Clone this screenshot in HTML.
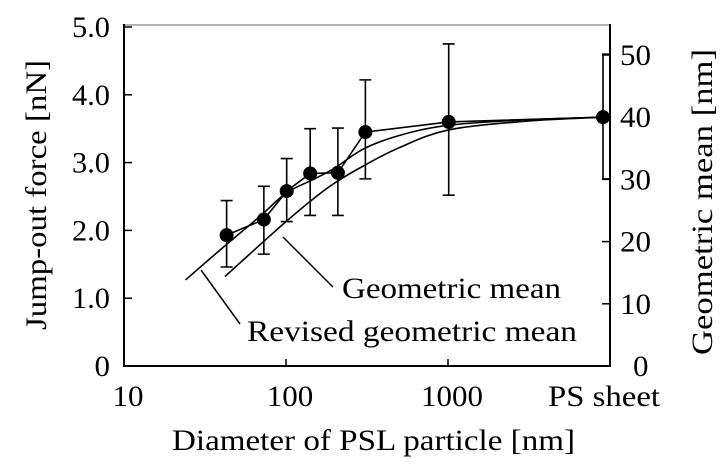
<!DOCTYPE html>
<html><head><meta charset="utf-8"><style>
html,body{margin:0;padding:0;background:#fff;}
svg text{font-family:"Liberation Serif",serif;fill:#000;}
</style></head><body>
<svg id="chart" width="724" height="469" viewBox="0 0 724 469" xmlns="http://www.w3.org/2000/svg">
<g id="axes"></g>
<g id="curves"></g>
<g id="points"></g>
<g>
  <line x1="283" y1="237" x2="333" y2="287" stroke="#000" stroke-width="1.5"/>
  <text x="342" y="298" font-size="30" textLength="219" lengthAdjust="spacingAndGlyphs">Geometric mean</text>
  <line x1="201" y1="270" x2="240" y2="324" stroke="#000" stroke-width="1.5"/>
  <text x="247" y="341" font-size="30" textLength="330" lengthAdjust="spacingAndGlyphs">Revised geometric mean</text>
</g>
<text x="172" y="450" font-size="30" textLength="403" lengthAdjust="spacingAndGlyphs">Diameter of PSL particle [nm]</text>
<text transform="translate(46,195) rotate(-90)" text-anchor="middle" font-size="30" textLength="270" lengthAdjust="spacingAndGlyphs">Jump-out force [nN]</text>
<text transform="translate(712,202) rotate(-90)" text-anchor="middle" font-size="30" textLength="306" lengthAdjust="spacingAndGlyphs">Geometric mean [nm]</text>
</svg>
<script>
const diameters = [43, 73, 101, 141, 209, 309, 1010, 10000];
const forces = [1.93, 2.16, 2.58, 2.84, 2.85, 3.45, 3.6, 3.67];
const errTop = [2.44, 2.65, 3.06, 3.50, 3.51, 4.22, 4.75, 4.60];
const errBottom = [1.46, 1.65, 2.13, 2.22, 2.22, 2.76, 2.52, 2.76];
const revisedD = [24, 40, 70, 100, 150, 200, 300, 500, 1000, 3000, 10000];
const revisedV = [1.27, 1.73, 2.22, 2.55, 2.76, 2.92, 3.2, 3.4, 3.55, 3.63, 3.67];
const geoD = [42, 70, 100, 150, 200, 300, 500, 1000, 3000, 10000];
const geoV = [1.32, 1.8, 2.13, 2.48, 2.7, 2.95, 3.22, 3.48, 3.61, 3.67];
const xTickVals = [10, 100, 1000, 10000];
const xTickLabels = ["10", "100", "1000", "PS sheet"];
const yLeftTicks = [0, 1, 2, 3, 4, 5];
const yLeftLabels = ["0", "1.0", "2.0", "3.0", "4.0", "5.0"];
const yRightTicks = [0, 10, 20, 30, 40, 50];

const X0 = 124, X1 = 610, Y0 = 366;
const xs = d => X0 + (Math.log10(d) - 1) * (X1 - X0) / 3;
const yL = v => Y0 - v * 67.8;
const yR = v => Y0 - v * 6.22;
const NS = "http://www.w3.org/2000/svg";
const tw = s => { let w = 0; for (const c of s) w += (c === '.' ? 7 : c === ' ' ? 8 : 15.5); return w; };
function mk(parent, tag, attrs, text) {
  const e = document.createElementNS(NS, tag);
  for (const k in attrs) e.setAttribute(k, attrs[k]);
  if (text !== undefined) e.textContent = text;
  parent.appendChild(e);
  return e;
}
const axes = document.getElementById('axes');
let e;
e = mk(axes, 'line', {x1: X0, y1: 25, x2: X1, y2: 25, stroke: '#888', 'stroke-width': 1.2});


e = mk(axes, 'line', {x1: X0, y1: 24, x2: X0, y2: Y0 + 1, stroke: '#000', 'stroke-width': 2});


e = mk(axes, 'line', {x1: X1, y1: 24, x2: X1, y2: Y0 + 1, stroke: '#000', 'stroke-width': 2});


e = mk(axes, 'line', {x1: X0, y1: Y0, x2: X1, y2: Y0, stroke: '#000', 'stroke-width': 2});


xTickVals.forEach((v, i) => {
  const x = xs(v);
  const t = mk(axes, 'line', {x1: x, y1: Y0, x2: x, y2: Y0 - 7, stroke: '#000', 'stroke-width': 1.5});
  
  
  const s = xTickLabels[i];
  const w = i === 3 ? 112 : tw(s);
  const l = mk(axes, 'text', {x: i === 3 ? 548 : x + 4 - w / 2, y: 406, 'font-size': 30, textLength: w, lengthAdjust: 'spacingAndGlyphs'}, s);
  
  
});
yLeftTicks.forEach((v, i) => {
  const y = yL(v);
  const t = mk(axes, 'line', {x1: X0, y1: y, x2: X0 + 8, y2: y, stroke: '#000', 'stroke-width': 1.5});
  
  
  const s = yLeftLabels[i];
  const w = tw(s);
  const l = mk(axes, 'text', {x: 110 - w, y: y + 10, 'font-size': 30, textLength: w, lengthAdjust: 'spacingAndGlyphs'}, s);
  
  
});
yRightTicks.forEach(v => {
  const y = yR(v);
  const t = mk(axes, 'line', {x1: X1, y1: y, x2: X1 - 8, y2: y, stroke: '#000', 'stroke-width': 1.5});
  
  
  const s = String(v);
  const l = mk(axes, 'text', {x: v === 0 ? 633 : 620, y: y + 10, 'font-size': 30, textLength: tw(s), lengthAdjust: 'spacingAndGlyphs'}, s);
  
  
});
const curves = document.getElementById('curves');
const px = d => d >= 10000 ? xs(d) - 7 : xs(d);
function smooth(D, V) {
  const p = D.map((d, i) => [px(d), yL(V[i])]);
  let s = `M${p[0][0]},${p[0][1]}`;
  for (let i = 0; i < p.length - 1; i++) {
    const a = p[i - 1] || p[i], b = p[i], c = p[i + 1], d = p[i + 2] || c;
    s += ` C${b[0] + (c[0] - a[0]) / 6},${b[1] + (c[1] - a[1]) / 6} ${c[0] - (d[0] - b[0]) / 6},${c[1] - (d[1] - b[1]) / 6} ${c[0]},${c[1]}`;
  }
  return s;
}
e = mk(curves, 'path', {d: smooth(revisedD, revisedV), fill: 'none', stroke: '#000', 'stroke-width': 1.6});


e = mk(curves, 'path', {d: smooth(geoD, geoV), fill: 'none', stroke: '#000', 'stroke-width': 1.6});


const pts = document.getElementById('points');
e = mk(pts, 'polyline', {points: diameters.map((d, i) => `${px(d)},${yL(forces[i])}`).join(' '), fill: 'none', stroke: '#000', 'stroke-width': 1.6});


diameters.forEach((d, i) => {
  const x = px(d);
  const last = i === diameters.length - 1;
  const bx = x;
  const cl = last ? bx - 1 : bx - 6, cr = last ? X1 : bx + 6;
  const eb = mk(pts, 'path', {d: `M${bx},${yL(errTop[i])}V${yL(errBottom[i])}M${cl},${yL(errTop[i])}H${cr}M${cl},${yL(errBottom[i])}H${cr}`, stroke: '#000', 'stroke-width': 1.6, fill: 'none'});
  
  
  const c = mk(pts, 'circle', {cx: x, cy: yL(forces[i]), r: 7, fill: '#000'});
  
  
});
</script>
</body></html>
